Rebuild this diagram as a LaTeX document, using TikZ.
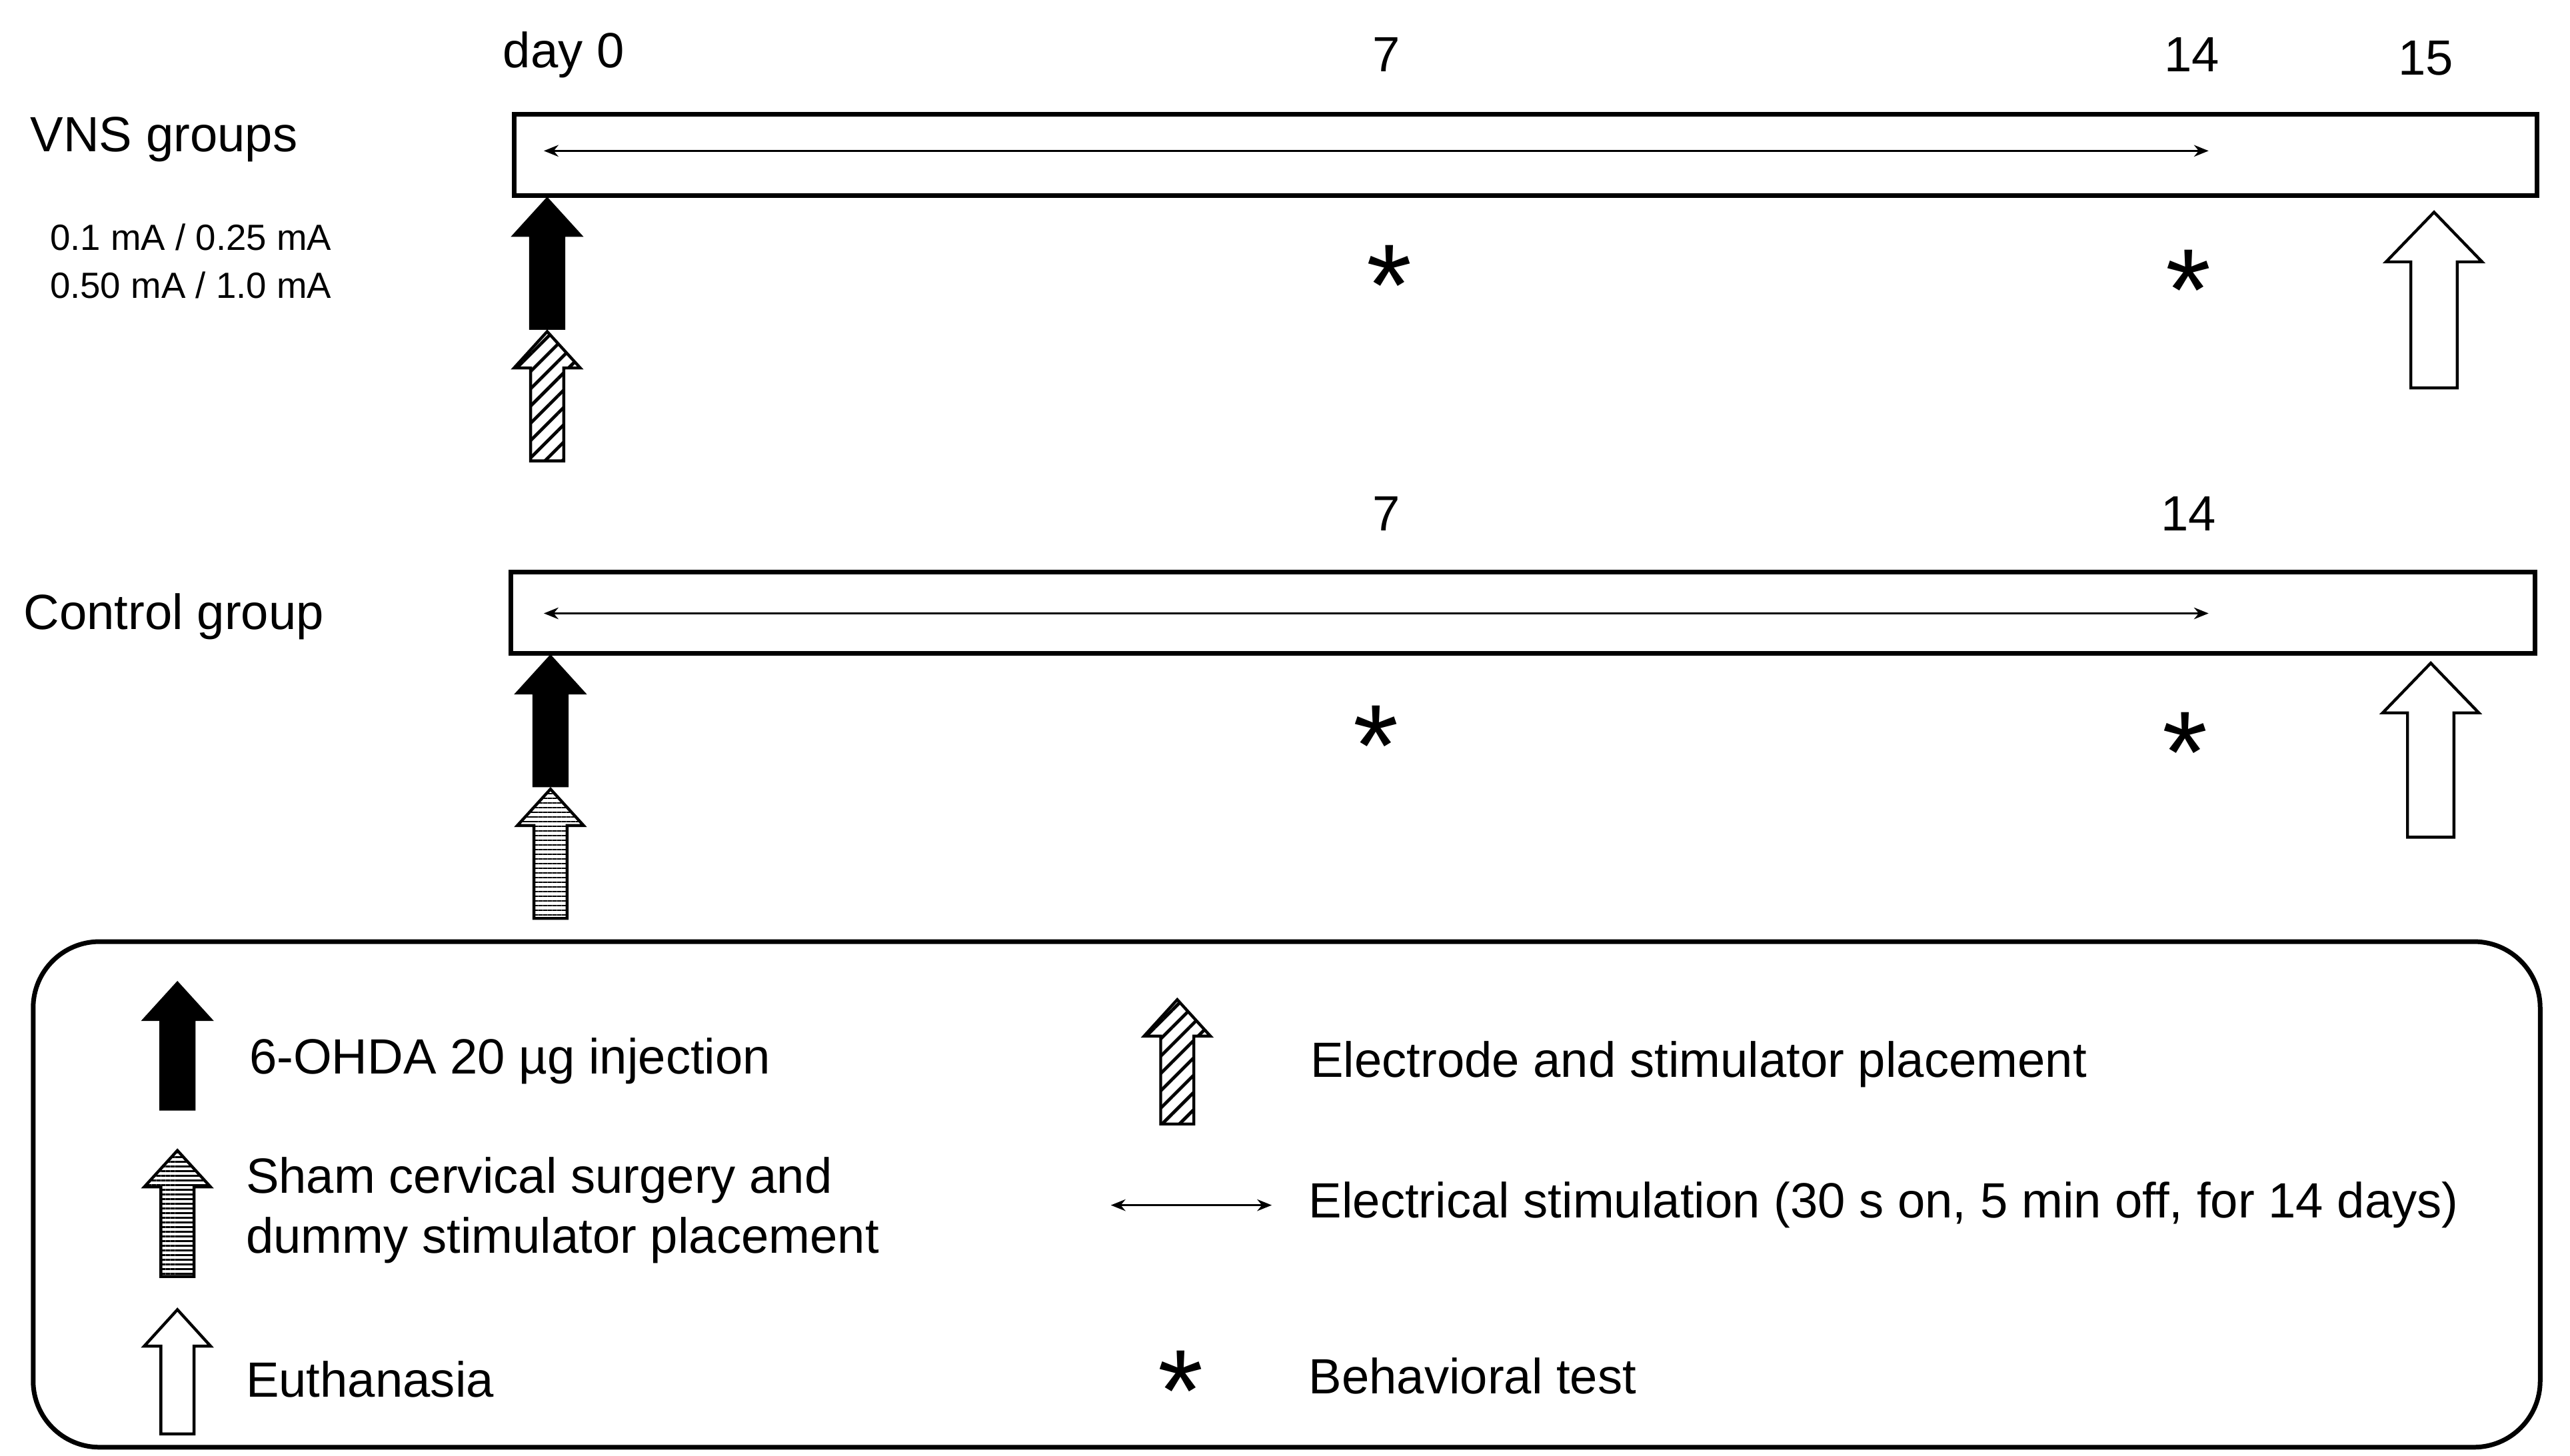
\documentclass[tikz,border=0pt]{standalone}
\usepackage{fontspec}
\setmainfont{Liberation Sans}
\usetikzlibrary{arrows.meta,patterns.meta}
\tikzset{
  box/.style={draw,line width=1.6pt},
  stim/.style={line width=0.7pt,{Stealth[length=5pt,width=4pt]}-{Stealth[length=5pt,width=4pt]}},
  lbl/.style={anchor=west,inner sep=0pt,font=\fontsize{17}{20}\selectfont},
  day/.style={inner sep=0pt,font=\fontsize{17}{20}\selectfont},
  star/.style={inner sep=0pt,font=\fontsize{40}{40}\selectfont},
  diag/.style={pattern={Lines[angle=45,distance=4.2pt,line width=1.1pt]}},
  horiz/.style={pattern={Lines[angle=0,distance=1.6pt,line width=0.6pt]}},
}
% arrow: x, top y, bottom y, half head width, half shaft width, head height, style
\newcommand\uparr[7]{%
  \draw[line width=1pt,#7] (#1,#2) -- ++(#4,#6) -- ++(-#4+#5,0) -- (#1+#5,#3)
    -- (#1-#5,#3) -- (#1-#5,#2+#6) -- ++(-#4+#5,0) -- cycle;}
\begin{document}
\begin{tikzpicture}[x=0.02cm,y=-0.02cm]
\useasboundingbox (0,0) rectangle (1550,878);
% top timeline
\node[day] (d0) at (340,33) {day 0};
\node[day] (d7) at (836,33) {7};
\node[day] (d14) at (1322,33) {14};
\node[day] (d15) at (1463,35) {15};
\node[lbl] (vns) at (18,84) {VNS groups};
\node[inner sep=0pt,font=\fontsize{12.5}{15}\selectfont] (c1) at (115,143) {0.1 mA / 0.25 mA};
\node[inner sep=0pt,font=\fontsize{12.5}{15}\selectfont] (c2) at (115,172) {0.50 mA / 1.0 mA};
\draw[box] (310,69) rectangle (1530,118);
\coordinate (s1a) at (328,91); \coordinate (s1b) at (1332,91);
\draw[stim] (s1a) -- (s1b);
\uparr{330}{120}{198}{20}{10}{22}{fill=black}
\uparr{330}{200}{278}{20}{10}{22}{diag}
\node[star] (a1) at (838,172) {*};
\node[star] (a2) at (1320,175) {*};
\uparr{1468}{128}{234}{29}{14}{30}{fill=white}
% control timeline
\node[day] (e7) at (836,310) {7};
\node[day] (e14) at (1320,310) {14};
\node[lbl] (ctl) at (14,372) {Control group};
\draw[box] (308,345) rectangle (1529,394);
\coordinate (s2a) at (328,370); \coordinate (s2b) at (1332,370);
\draw[stim] (s2a) -- (s2b);
\uparr{332}{396}{474}{20}{10}{22}{fill=black}
\uparr{332}{476}{554}{20}{10}{22}{horiz}
\node[star] (b1) at (830,450) {*};
\node[star] (b2) at (1318,454) {*};
\uparr{1466}{400}{505}{29}{14}{30}{fill=white}
% legend
\draw[box,rounded corners=0.8cm] (20,568) rectangle (1532,873);
\uparr{107}{593}{669}{20}{10}{22}{fill=black}
\node[lbl] (l1) at (150,640) {6-OHDA 20 µg injection};
\uparr{107}{694}{770}{20}{10}{22}{horiz}
\node[lbl] (l2) at (148,712) {Sham cervical surgery and};
\node[lbl] (l3) at (148,748) {dummy stimulator placement};
\uparr{107}{790}{865}{20}{10}{22}{fill=white}
\node[lbl] (l4) at (148,832) {Euthanasia};
\uparr{710}{603}{678}{20}{10}{22}{diag}
\node[lbl] (l5) at (790,642) {Electrode and stimulator placement};
\coordinate (s3a) at (670,727); \coordinate (s3b) at (767,727);
\draw[stim] (s3a) -- (s3b);
\node[lbl] (l6) at (789,727) {Electrical stimulation (30 s on, 5 min off, for 14 days)};
\node[star] (a3) at (712,839) {*};
\node[lbl] (l7) at (789,830) {Behavioral test};
\end{tikzpicture}
\end{document}
